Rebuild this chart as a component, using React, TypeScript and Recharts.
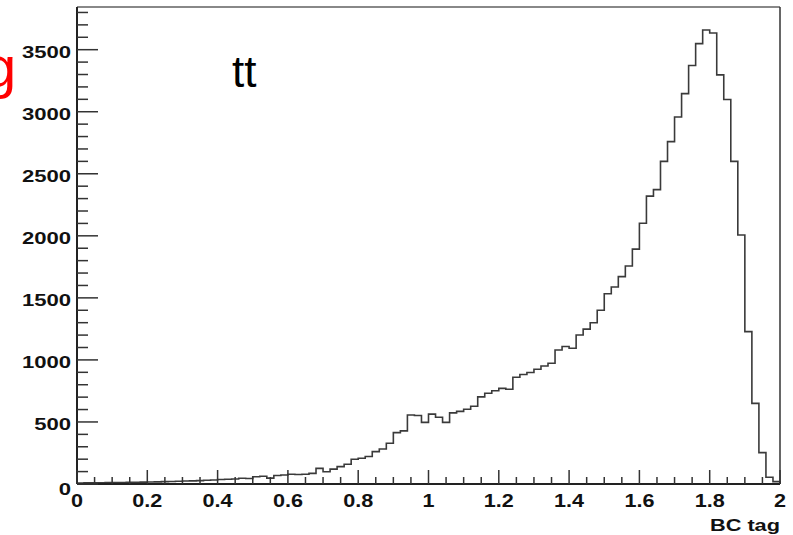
import React from "react";
import {
  LineChart,
  Line,
  XAxis,
  YAxis,
  ReferenceLine,
} from "recharts";

// bin contents, 100 bins of width 0.02 from 0 to 2
const binWidth = 0.02;
const counts = [
  8, 9, 10, 10, 11, 12, 12, 13, 14, 15,
  16, 17, 19, 20, 22, 24, 25, 27, 30, 32,
  36, 38, 40, 46, 44, 58, 63, 47, 68, 72,
  78, 76, 78, 86, 126, 99, 120, 140, 159, 199,
  207, 222, 261, 282, 328, 414, 428, 556, 552, 497,
  563, 538, 497, 573, 585, 602, 627, 702, 731, 752,
  771, 764, 860, 882, 898, 925, 951, 973, 1080, 1108,
  1094, 1201, 1248, 1300, 1400, 1533, 1588, 1671, 1757, 1893,
  2101, 2320, 2372, 2600, 2759, 2958, 3146, 3372, 3549, 3659,
  3635, 3297, 3098, 2600, 2007, 1228, 650, 253, 54, 19,
];

const xMajorTicks = [0, 0.2, 0.4, 0.6, 0.8, 1, 1.2, 1.4, 1.6, 1.8, 2];
const yMajorTicks = [0, 500, 1000, 1500, 2000, 2500, 3000, 3500];
const Y_MAX = 3844;

// minor ticks: every 0.05 on x, every 100 on y
const xTicks = Array.from({ length: 41 }, (_, i) => Math.round(i * 5) / 100);
const yTicks = Array.from({ length: 39 }, (_, i) => i * 100);

const data = counts
  .map((c, i) => ({ x: Math.round(i * binWidth * 100) / 100, count: c }))
  .concat([{ x: 2, count: 0 }]);

const FONT = "'Liberation Sans', Arial, Helvetica, sans-serif";

const YTick = (props: any) => {
  const { x, y, payload } = props;
  const v = payload.value;
  const axisX = x + 6;
  const major = yMajorTicks.includes(v);
  return (
    <g>
      <line x1={axisX} x2={axisX + (major ? 21 : 11)} y1={y} y2={y} stroke="#333" strokeWidth={1.5} />
      {major && (
        <text
          transform={`translate(${axisX - 6},${y + (v === 0 ? 11 : 8)}) scale(1.38,1)`}
          textAnchor="end"
          fontFamily={FONT}
          fontWeight="bold"
          fontSize={16}
          fill="#111"
        >
          {v}
        </text>
      )}
    </g>
  );
};

const XTick = (props: any) => {
  const { x, y, payload } = props;
  const v = payload.value;
  const axisY = y - 4;
  const major = xMajorTicks.some((t) => Math.abs(t - v) < 1e-6);
  return (
    <g>
      <line x1={x} x2={x} y1={axisY} y2={axisY - (major ? 14 : 7)} stroke="#333" strokeWidth={1.5} />
      {major && (
        <text
          transform={`translate(${x},${axisY + 23}) scale(1.2,1)`}
          textAnchor="middle"
          fontFamily={FONT}
          fontWeight="bold"
          fontSize={18}
          fill="#111"
        >
          {String(Math.round(v * 10) / 10)}
        </text>
      )}
    </g>
  );
};

const AxisTitle = (props: any) => {
  const { viewBox } = props;
  return (
    <text
      transform={`translate(${viewBox.x + viewBox.width},${viewBox.y + 47}) scale(1.36,1)`}
      textAnchor="end"
      fontFamily={FONT}
      fontWeight="bold"
      fontSize={16}
      fill="#111"
    >
      BC tag
    </text>
  );
};

export default function App() {
  return (
    <div style={{ position: "absolute", left: 0, top: 0, width: 793, height: 535, background: "#fff" }}>
      <LineChart
        width={793}
        height={535}
        data={data}
        margin={{ top: 7, right: 13, bottom: 0, left: 0 }}
      >
        <XAxis
          dataKey="x"
          type="number"
          domain={[0, 2]}
          ticks={xTicks}
          interval={0}
          tickSize={0}
          tickMargin={4}
          height={51}
          axisLine={{ stroke: "#222", strokeWidth: 2 }}
          tickLine={false}
          tick={<XTick />}
          label={<AxisTitle />}
        />
        <YAxis
          type="number"
          domain={[0, Y_MAX]}
          ticks={yTicks}
          interval={0}
          tickSize={0}
          tickMargin={6}
          width={77}
          axisLine={{ stroke: "#222", strokeWidth: 2 }}
          tickLine={false}
          tick={<YTick />}
          allowDataOverflow
        />
        <ReferenceLine y={Y_MAX} stroke="#888" strokeWidth={2} />
        <ReferenceLine x={2} stroke="#333" strokeWidth={1.5} />
        <Line
          type="stepAfter"
          dataKey="count"
          stroke="#3a3a3a"
          strokeWidth={1.6}
          dot={false}
          isAnimationActive={false}
        />
      </LineChart>
      <svg
        width={793}
        height={535}
        style={{ position: "absolute", left: 0, top: 0, pointerEvents: "none" }}
      >
        <text x={-16} y={87} fontFamily={FONT} fontSize={58} fill="#ff0000">
          g
        </text>
        <text x={232} y={87} fontFamily={FONT} fontSize={44} fill="#000">
          tt
        </text>
      </svg>
    </div>
  );
}
